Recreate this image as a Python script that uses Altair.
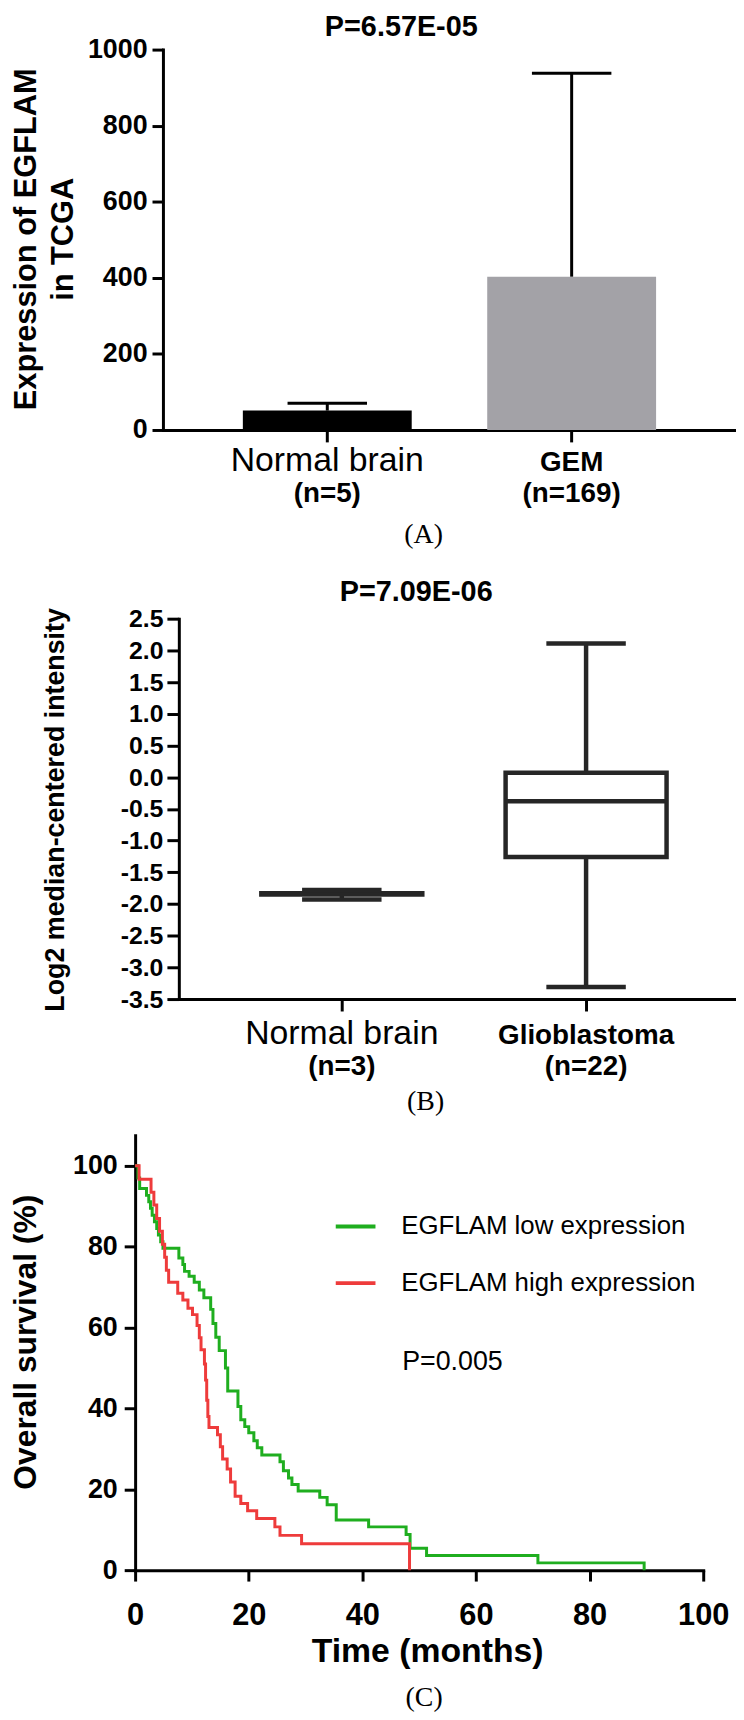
import altair as alt
import pandas as pd

SANS = "Liberation Sans"
SERIF = "Liberation Serif"

# ---------------- Panel A data ----------------
a_groups = ["Normal brain", "GEM"]
a_means = [51, 403]
a_upper = [70, 938]
a_counts = ["(n=5)", "(n=169)"]
a_ticks = [0, 200, 400, 600, 800, 1000]
a_title = ["P=6.57E-05"]
a_ytitle = ["Expression of EGFLAM", "in TCGA"]
a_colors = ["#000000", "#a3a2a7"]

# ---------------- Panel B data ----------------
b_groups = ["Normal brain", "Glioblastoma"]
b_low = [-1.93, -3.31]
b_q1 = [-1.85, -1.26]
b_median = [-1.84, -0.38]
b_q3 = [-1.83, 0.07]
b_high = [-1.78, 2.11]
b_counts = ["(n=3)", "(n=22)"]
b_ticks = [-3.5, -3.0, -2.5, -2.0, -1.5, -1.0, -0.5, 0.0, 0.5, 1.0, 1.5, 2.0, 2.5]
b_title = ["P=7.09E-06"]
b_ytitle = "Log2 median-centered intensity"

# ---------------- Panel C data ----------------
c_groups = ["EGFLAM low expression", "EGFLAM high expression"]
c_colors = ["#1fae1f", "#ee3b3b"]
low_time = [0, 0.5, 0.8, 2.0, 2.4, 2.7, 3.0, 3.4, 3.8, 4.1, 4.5, 4.9, 7.7, 8.4, 8.7,
            9.5, 10.4, 11.3, 12.1, 13.3, 13.7, 14.2, 14.8, 15.9, 16.3, 18.1, 18.6,
            19.3, 20.0, 20.9, 21.5, 22.3, 25.5, 26.1, 27.0, 27.6, 28.7, 32.5, 33.8,
            35.4, 41.1, 47.7, 48.4, 51.3, 70.9, 89.6]
low_surv = [100, 97.0, 94.4, 92.7, 91.1, 89.5, 87.8, 86.2, 84.5, 82.9, 81.2, 79.6,
            77.2, 75.6, 73.9, 72.7, 71.2, 69.3, 67.4, 64.5, 61.0, 57.6, 54.3, 50.0,
            44.3, 40.5, 37.2, 35.5, 34.0, 32.0, 30.3, 28.5, 26.8, 24.6, 22.8, 21.2,
            19.6, 18.0, 16.2, 12.4, 10.7, 8.8, 5.4, 3.6, 1.8, 0]
high_time = [0, 0.7, 2.8, 3.3, 3.8, 4.3, 4.8, 5.2, 5.5, 5.9, 7.5, 8.4, 9.3, 10.1,
             10.9, 11.3, 11.6, 12.2, 12.4, 12.6, 12.8, 13.0, 14.5, 15.0, 15.4, 16.2,
             16.8, 17.6, 18.6, 19.8, 21.4, 24.6, 25.5, 29.3, 48.3]
high_surv = [100, 96.7, 93.5, 90.3, 87.0, 83.8, 80.6, 77.4, 74.2, 71.2, 68.5, 66.8,
             64.8, 63.2, 60.5, 57.5, 54.5, 51.0, 47.0, 42.0, 38.0, 35.3, 33.5, 30.5,
             27.5, 25.0, 21.8, 18.3, 16.5, 14.7, 12.8, 10.7, 8.6, 6.5, 0]
c_ticks = [0, 20, 40, 60, 80, 100]
c_caption = ["(C)"]
p_text = ["P=0.005"]
p_x = [47.0]
p_y = [49.6]


def axis_style(**kw):
    base = dict(grid=False, domainColor="black", domainWidth=3, domainCap="square",
                tickColor="black", tickWidth=3, labelColor="black", titleColor="black",
                labelFont=SANS, titleFont=SANS, labelFlush=False, labelOverlap=False,
                labelLimit=0)
    base.update(kw)
    return alt.Axis(**base)


def cat_label_size(normal_name):
    return {"condition": {"test": f"datum.value === '{normal_name}'", "value": 34}, "value": 28}


def cat_label_weight(normal_name):
    return {"condition": {"test": f"datum.value === '{normal_name}'", "value": "normal"}, "value": "bold"}


def spacer(w):
    return alt.Chart(pd.DataFrame({"v": [0]})).mark_point(size=0, opacity=0, strokeWidth=0).properties(width=w, height=1)


def heading(text_list, x_px, y_px):
    return alt.Chart(pd.DataFrame({"t": text_list})).mark_text(
        font=SANS, fontSize=29, fontWeight="bold", align="center", baseline="alphabetic",
        color="black").encode(x=alt.value(x_px), y=alt.value(y_px), text="t:N")


# ================= Panel A =================
dfA = pd.DataFrame({"group": a_groups, "mean": a_means, "upper": a_upper, "count": a_counts})
xA = alt.X("group:N", sort=a_groups,
           scale=alt.Scale(domain=a_groups, paddingInner=0.309, paddingOuter=0.327, align=0.5),
           axis=axis_style(title="(A)", titleFont=SERIF, titleFontSize=28, titleFontWeight="normal",
                           titleX=262, titleY=113, titleBaseline="alphabetic", titleAlign="center",
                           titleAngle=0, labelAngle=0,
                           labelFontSize=cat_label_size("Normal brain"),
                           labelFontWeight=cat_label_weight("Normal brain"),
                           labelBaseline="alphabetic", labelPadding=28.5, tickSize=12))
yA_scale = alt.Scale(domain=[0, 1000], nice=False)
yA_axis = axis_style(values=a_ticks, format="d", title=a_ytitle, titleFontSize=31,
                     titleFontWeight="bold", titleAngle=270, titleAlign="center",
                     titleBaseline="alphabetic", titleX=-128, titleY=190.5, titleLineHeight=37,
                     labelFontSize=27, labelFontWeight="bold", labelPadding=5, tickSize=11)


def yA(field):
    return alt.Y(field, scale=yA_scale, axis=yA_axis)


barsA = alt.Chart(dfA).mark_bar().encode(
    x=xA, y=yA("mean:Q"),
    color=alt.condition(f"datum.group === '{a_groups[0]}'", alt.value(a_colors[0]), alt.value(a_colors[1])))
errA = alt.Chart(dfA).mark_rule(color="black", strokeWidth=3).encode(x=xA, y=yA("mean:Q"), y2="upper:Q")
capA = alt.Chart(dfA).mark_tick(orient="horizontal", size=80, thickness=3, color="black",
                                opacity=1).encode(x=xA, y=yA("upper:Q"))
nA = alt.Chart(dfA).mark_text(font=SANS, fontSize=28, fontWeight="bold", baseline="alphabetic",
                              color="black").encode(x=xA, y=alt.value(456), text="count:N")
titleA = heading(a_title, 240, -14)

panelA = alt.layer(barsA, errA, capA, nA, titleA).properties(width=577, height=383)

# ================= Panel B =================
BOXC = "#262626"
dfB = pd.DataFrame({"group": b_groups, "low": b_low, "q1": b_q1, "median": b_median,
                    "q3": b_q3, "high": b_high, "count": b_counts})
xB = alt.X("group:N", sort=b_groups,
           scale=alt.Scale(domain=b_groups, paddingInner=0.341, paddingOuter=0.311, align=0.543),
           axis=axis_style(title="(B)", titleFont=SERIF, titleFontSize=28, titleFontWeight="normal",
                           titleX=248, titleY=111, titleBaseline="alphabetic", titleAlign="center",
                           titleAngle=0, labelAngle=0,
                           labelFontSize=cat_label_size("Normal brain"),
                           labelFontWeight=cat_label_weight("Normal brain"),
                           labelBaseline="alphabetic", labelPadding=33, tickSize=12))
yB_scale = alt.Scale(domain=[-3.5, 2.5], nice=False)
yB_axis = axis_style(values=b_ticks,
                     labelExpr="(datum.value < 0 ? '-' : '') + format(abs(datum.value), '.1f')",
                     title=b_ytitle, titleFontSize=27, titleFontWeight="bold", titleAngle=270,
                     titleAlign="center", titleBaseline="alphabetic", titleX=-116, titleY=192,
                     labelFontSize=25, labelFontWeight="bold", labelPadding=4, tickSize=12)


def yB(field):
    return alt.Y(field, scale=yB_scale, axis=yB_axis)


whiskB = alt.Chart(dfB).mark_rule(color=BOXC, strokeWidth=4.5).encode(x=xB, y=yB("low:Q"), y2="high:Q")
boxB = alt.Chart(dfB).mark_bar(fill="white", stroke=BOXC, strokeWidth=4.5, opacity=1).encode(
    x=xB, y=yB("q1:Q"), y2="q3:Q")
medB = alt.Chart(dfB).mark_tick(orient="horizontal", size=162, thickness=4.5, color=BOXC,
                                opacity=1).encode(x=xB, y=yB("median:Q"))
capLoB = alt.Chart(dfB).mark_tick(orient="horizontal", size=80, thickness=4.5, color=BOXC,
                                  opacity=1).encode(x=xB, y=yB("low:Q"))
capHiB = alt.Chart(dfB).mark_tick(orient="horizontal", size=80, thickness=4.5, color=BOXC,
                                  opacity=1).encode(x=xB, y=yB("high:Q"))
nB = alt.Chart(dfB).mark_text(font=SANS, fontSize=28, fontWeight="bold", baseline="alphabetic",
                              color="black").encode(x=xB, y=alt.value(459), text="count:N")
titleB = heading(b_title, 239, -18)

panelB = alt.layer(whiskB, boxB, medB, capLoB, capHiB, nB, titleB).properties(width=561, height=383)

# ================= Panel C =================
recs = []
for t, s in zip(low_time, low_surv):
    recs.append({"group": c_groups[0], "time": t, "surv": s})
for t, s in zip(high_time, high_surv):
    recs.append({"group": c_groups[1], "time": t, "surv": s})
dfC = pd.DataFrame(recs)

xC_scale = alt.Scale(domain=[0, 100], nice=False)
xC_axis = axis_style(values=c_ticks, title="Time (months)", titleFontSize=34, titleFontWeight="bold",
                     titleX=294, titleY=92, titleBaseline="alphabetic", titleAlign="center",
                     labelFontSize=31, labelFontWeight="bold", labelBaseline="middle",
                     labelPadding=35, tickSize=11, labelAngle=0)
yC_scale = alt.Scale(domain=[0, 107.6], nice=False)
yC_axis = axis_style(values=c_ticks, title="Overall survival (%)", titleFontSize=32,
                     titleFontWeight="bold", titleAngle=270, titleAlign="center",
                     titleBaseline="alphabetic", titleX=-100, titleY=208,
                     labelFontSize=27, labelFontWeight="bold", labelPadding=7, tickSize=11)


def xC(field):
    return alt.X(field, scale=xC_scale, axis=xC_axis)


def yC(field):
    return alt.Y(field, scale=yC_scale, axis=yC_axis)


linesC = alt.Chart(dfC).mark_line(interpolate="step-after", strokeWidth=3).encode(
    x=xC("time:Q"), y=yC("surv:Q"),
    color=alt.Color("group:N", scale=alt.Scale(domain=c_groups, range=c_colors),
                    legend=alt.Legend(title=None, orient="none", legendX=200, legendY=70,
                                      direction="vertical", symbolType="stroke", symbolSize=1600,
                                      symbolStrokeWidth=4, labelFont=SANS, labelFontSize=26,
                                      labelColor="black", labelOffset=24, rowPadding=22,
                                      padding=0, labelLimit=0)))
dfP = pd.DataFrame({"label": p_text, "time": p_x, "surv": p_y})
pC = alt.Chart(dfP).mark_text(font=SANS, fontSize=27, align="left", baseline="alphabetic",
                              color="black").encode(x=xC("time:Q"), y=yC("surv:Q"), text="label:N")
capC = alt.Chart(pd.DataFrame({"t": c_caption})).mark_text(
    font=SERIF, fontSize=28, align="center", baseline="alphabetic", color="black").encode(
    x=alt.value(291), y=alt.value(575), text="t:N")

panelC = alt.layer(linesC, pC, capC).properties(width=572, height=438)

rowA = alt.hconcat(spacer(3), panelA, spacing=0)
rowB = alt.hconcat(spacer(33), panelB, spacing=0)
rowC = alt.hconcat(spacer(2), panelC, spacing=0).resolve_scale(color="independent").resolve_legend(color="independent")

chart = alt.vconcat(alt.vconcat(rowA, rowB, spacing=30), rowC, spacing=20).resolve_scale(
    color="independent").resolve_legend(color="independent").properties(
    padding={"left": 0, "top": -1, "right": 0, "bottom": 0}, background="white"
).configure_view(strokeWidth=0)

chart.save("out.html", embed_options={"renderer": "svg", "actions": False})
